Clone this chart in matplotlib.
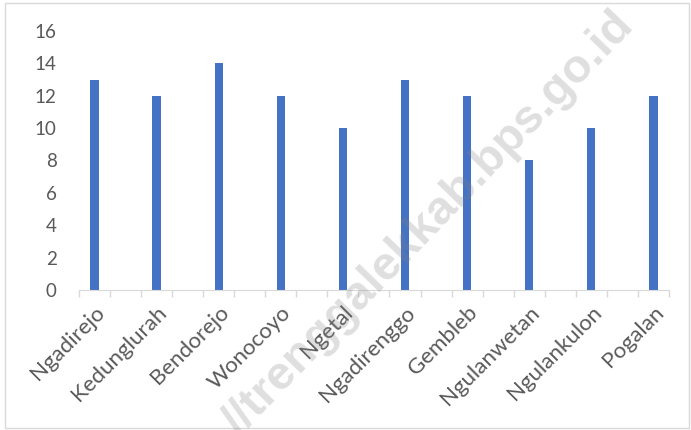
import numpy as np
import matplotlib.pyplot as plt
from matplotlib.patches import Rectangle

villages = ['Ngadirejo', 'Kedunglurah', 'Bendorejo', 'Wonocoyo', 'Ngetal',
            'Ngadirenggo', 'Gembleb', 'Ngulanwetan', 'Ngulankulon', 'Pogalan']
values = [13, 12, 14, 12, 10, 13, 12, 8, 10, 12]

plt.rcParams['font.family'] = ['Lato', 'DejaVu Sans']
txt = '#595959'

fig = plt.figure(figsize=(6.91, 4.30), dpi=100)
ax = fig.add_axes([0.1143, 0.3256, 0.8537, 0.6023])

# each village sits in every other slot, with an empty slot in between
pos = np.arange(len(villages)) * 2
ax.bar(pos, values, width=0.27, color='#4472C4', zorder=2)

ax.set_xlim(-0.5, pos[-1] + 0.5)
ax.set_ylim(0, 16)
ax.set_yticks(np.arange(0, 17, 2))
ax.tick_params(axis='y', length=0, labelsize=13.5, labelcolor=txt, pad=16)

ax.set_xticks(pos)
ax.set_xticklabels(villages, rotation=45, ha='right', rotation_mode='anchor',
                   fontsize=16, color=txt)
ax.tick_params(axis='x', which='major', length=0, pad=9)
ax.set_xticks(np.arange(-0.5, pos[-1] + 1, 1), minor=True)
ax.tick_params(axis='x', which='minor', length=5, color='#d9d9d9', width=1)

for s in ['top', 'right', 'left']:
    ax.spines[s].set_visible(False)
ax.spines['bottom'].set_color('#d9d9d9')

fig.text(0.62, 0.48, '//trenggalekkab.bps.go.id', rotation=46, fontsize=34,
         fontweight='bold', family='Liberation Sans', color='gray', alpha=0.25,
         ha='center', va='center', zorder=5)

fig.patches.append(Rectangle((0.007, 0.005), 0.99, 0.988, transform=fig.transFigure,
                             fill=False, edgecolor='#d9d9d9', linewidth=1))

fig.savefig('out.png', dpi=100)
